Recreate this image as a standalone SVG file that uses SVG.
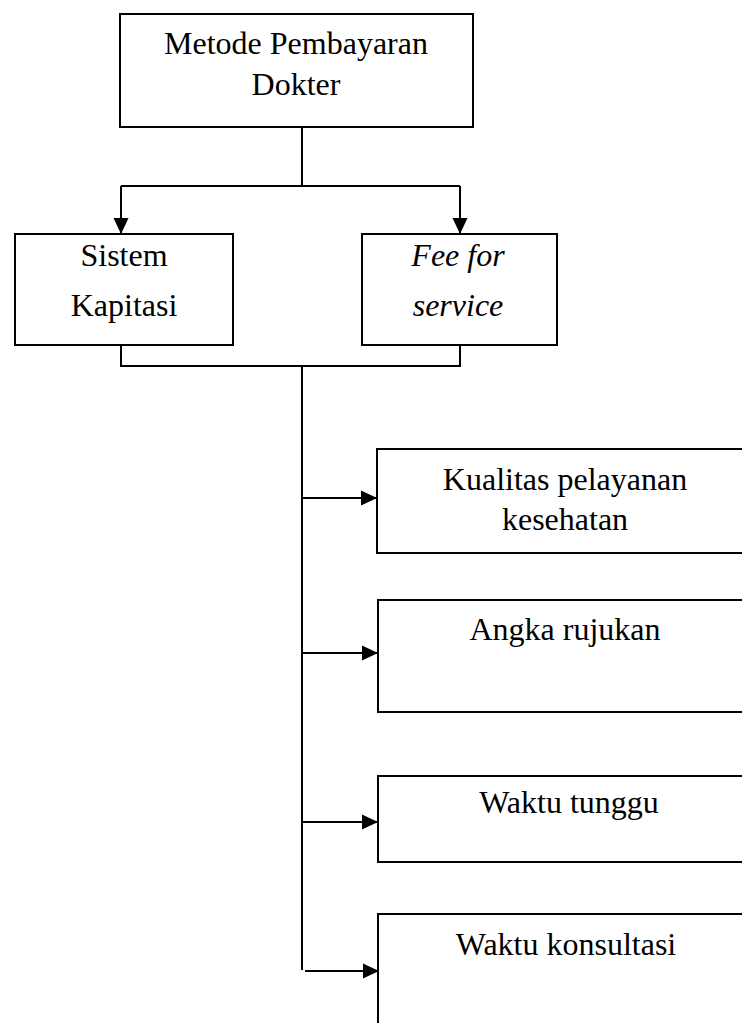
<svg xmlns="http://www.w3.org/2000/svg" width="742" height="1023" viewBox="0 0 742 1023">
<style>
.box{fill:#fff;stroke:#000;stroke-width:2}
.ln{fill:none;stroke:#000;stroke-width:2}
.t{font-family:"Liberation Serif","Times New Roman",serif;font-size:32px;fill:#000;text-anchor:middle}
.i{font-style:italic}
</style>
<defs>
<marker id="ah" markerUnits="userSpaceOnUse" markerWidth="16" markerHeight="16" refX="16" refY="7.5" orient="auto" viewBox="0 0 16 15">
<path d="M0,0 L16,7.5 L0,15 z" fill="#000"/>
</marker>
</defs>
<g id="n-metode">
<rect class="box" x="120" y="14" width="353" height="113"/>
<text class="t" x="296" y="54">Metode Pembayaran</text>
<text class="t" x="296" y="95">Dokter</text>
</g>
<g id="n-kapitasi">
<rect class="box" x="15" y="234" width="218" height="111"/>
<text class="t" x="124" y="266">Sistem</text>
<text class="t" x="124" y="316">Kapitasi</text>
</g>
<g id="n-fee">
<rect class="box" x="362" y="234" width="195" height="111"/>
<text class="t i" x="458" y="266">Fee for</text>
<text class="t i" x="458" y="316">service</text>
</g>
<g id="n-kualitas">
<rect class="box" x="377" y="449" width="400" height="104"/>
<text class="t" x="565" y="490">Kualitas pelayanan</text>
<text class="t" x="565" y="530">kesehatan</text>
</g>
<g id="n-angka">
<rect class="box" x="378" y="600" width="400" height="112"/>
<text class="t" x="565" y="640">Angka rujukan</text>
</g>
<g id="n-tunggu">
<rect class="box" x="378" y="776" width="400" height="86"/>
<text class="t" x="569" y="813">Waktu tunggu</text>
</g>
<g id="n-konsultasi">
<rect class="box" x="378" y="914" width="400" height="200"/>
<text class="t" x="566" y="955">Waktu konsultasi</text>
</g>
<g id="connectors">
<path class="ln" d="M302,127 V186"/>
<path class="ln" d="M121,186 H460"/>
<path class="ln" d="M121,186 V234" marker-end="url(#ah)"/>
<path class="ln" d="M460,186 V234" marker-end="url(#ah)"/>
<path class="ln" d="M121,345 V366 H460 V345"/>
<path class="ln" d="M302,366 V970"/>
<path class="ln" d="M302,498 H377" marker-end="url(#ah)"/>
<path class="ln" d="M302,653 H378" marker-end="url(#ah)"/>
<path class="ln" d="M302,822 H378" marker-end="url(#ah)"/>
<path class="ln" d="M305,971 H379" marker-end="url(#ah)"/>
</g>
</svg>
